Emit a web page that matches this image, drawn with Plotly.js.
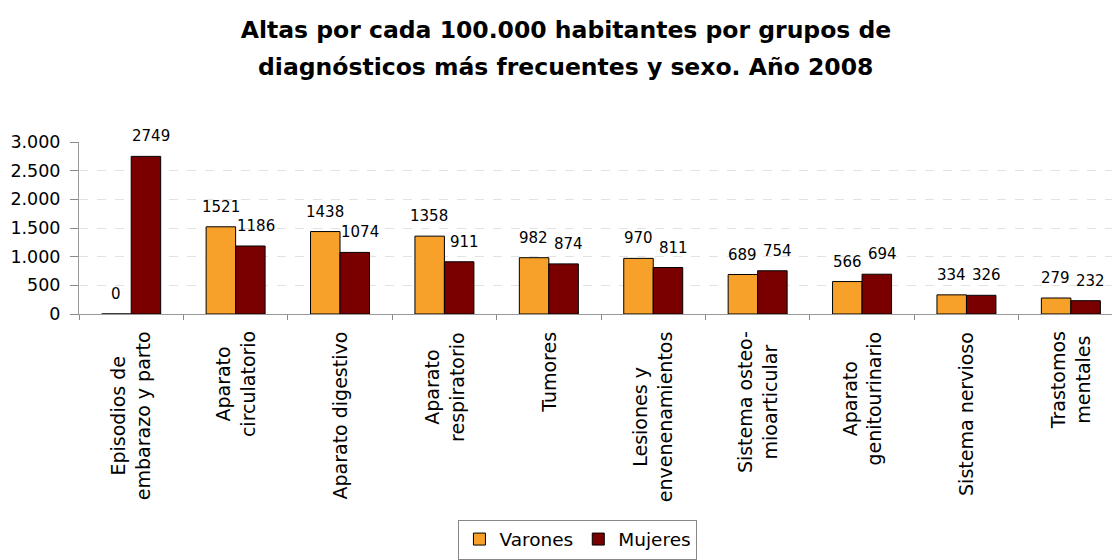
<!DOCTYPE html>
<html>
<head>
<meta charset="utf-8">
<script src="https://cdn.plot.ly/plotly-3.0.1.min.js"></script>
<style>html,body{margin:0;padding:0;background:#fff;}#chart{width:1112px;height:560px;}</style>
</head>
<body>
<div id="chart"></div>
<script>
const categories = [
  "Episodios de<br>embarazo y parto",
  "Aparato<br>circulatorio",
  "Aparato digestivo",
  "Aparato<br>respiratorio",
  "Tumores",
  "Lesiones y<br>envenenamientos",
  "Sistema osteo-<br>mioarticular",
  "Aparato<br>genitourinario",
  "Sistema nervioso",
  "Trastomos<br>mentales"
];
const varones = [0, 1521, 1438, 1358, 982, 970, 689, 566, 334, 279];
const mujeres = [2749, 1186, 1074, 911, 874, 811, 754, 694, 326, 232];
const seriesNames = ["Varones", "Mujeres"];
const yTickVals = [0, 500, 1000, 1500, 2000, 2500, 3000];
const titleLines = [
  "Altas por cada 100.000 habitantes por grupos de",
  "diagnósticos más frecuentes y sexo. Año 2008"
];

const font = "DejaVu Sans, Liberation Sans, Arial, sans-serif";
const colors = ["#F8A12A", "#7A0000"];

const traces = [varones, mujeres].map((vals, k) => ({
  type: "bar", name: seriesNames[k], x: categories, y: vals,
  marker: {color: colors[k], line: {color: "#000", width: 1}},
  hoverinfo: "none"
}));

const annotations = [];
// value labels above each bar
[varones, mujeres].forEach((vals, k) => {
  vals.forEach((v, i) => {
    annotations.push({
      x: categories[i], y: v, xref: "x", yref: "y",
      text: String(v), showarrow: false,
      xshift: k === 0 ? -15 : 20, yshift: 20,
      xanchor: "center", yanchor: "middle",
      font: {family: font, size: 15, color: "#000"}
    });
  });
});
// category labels (rotated, centred lines)
categories.forEach((c) => {
  annotations.push({
    x: c, y: -0.09, xref: "x", yref: "paper",
    text: c, showarrow: false, textangle: -90, align: "center",
    xanchor: "center", yanchor: "top",
    font: {family: font, size: 19, color: "#000"}
  });
});
// second title line
annotations.push({
  x: 0.4714, y: 1.436, xref: "paper", yref: "paper",
  text: "<b>" + titleLines[1] + "</b>", showarrow: false,
  xanchor: "center", yanchor: "middle",
  font: {family: font, size: 23.5, color: "#000"}
});

const layout = {
  width: 1112, height: 560,
  paper_bgcolor: "#fff", plot_bgcolor: "#fff",
  separators: ",.",
  margin: {l: 79, r: 0, t: 142, b: 246},
  font: {family: font, color: "#000"},
  title: {
    text: "<b>" + titleLines[0] + "</b>",
    font: {family: font, size: 23.5, color: "#000"},
    x: 0.509, xanchor: "center", y: 0.946, yanchor: "middle", yref: "container"
  },
  barmode: "group", bargap: 0.435, bargroupgap: 0,
  xaxis: {
    type: "category", range: [-0.5, 9.394],
    showticklabels: false,
    showline: true, linecolor: "#999", linewidth: 1,
    ticks: "outside", tickson: "boundaries", ticklen: 5, tickcolor: "#888",
    showgrid: false, fixedrange: true
  },
  yaxis: {
    range: [0, 3000], tickvals: yTickVals, tickformat: ",d",
    tickfont: {family: font, size: 17.5, color: "#000"},
    showline: true, linecolor: "#999", linewidth: 1,
    ticks: "outside", ticklen: 8, tickcolor: "#888", ticklabelstandoff: 6,
    showgrid: true, gridcolor: "#e2e2e2", griddash: "dash",
    zeroline: false, fixedrange: true
  },
  annotations: annotations,
  showlegend: true,
  legend: {
    orientation: "h", x: 0.483, xanchor: "center", y: -1.195, yanchor: "top",
    font: {family: font, size: 18.5, color: "#000"},
    bordercolor: "#888", borderwidth: 1, bgcolor: "#fff",
    traceorder: "normal", itemwidth: 30
  }
};

Plotly.newPlot("chart", traces, layout, {displayModeBar: false, staticPlot: true});
</script>
</body>
</html>
